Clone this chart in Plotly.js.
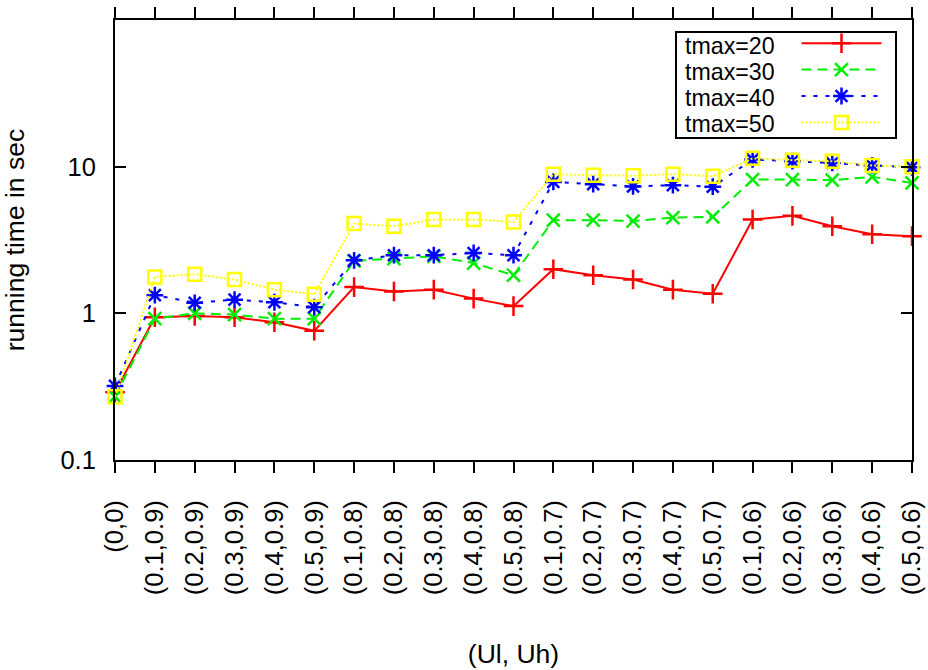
<!DOCTYPE html>
<html>
<head>
<meta charset="utf-8">
<script src="https://cdn.plot.ly/plotly-3.0.1.min.js"></script>
<style>html,body{margin:0;padding:0;background:#fff;}#chart{width:928px;height:670px;}</style>
</head>
<body>
<div id="chart"></div>
<script>
const categories = ["(0,0)", "(0.1,0.9)", "(0.2,0.9)", "(0.3,0.9)", "(0.4,0.9)", "(0.5,0.9)",
  "(0.1,0.8)", "(0.2,0.8)", "(0.3,0.8)", "(0.4,0.8)", "(0.5,0.8)",
  "(0.1,0.7)", "(0.2,0.7)", "(0.3,0.7)", "(0.4,0.7)", "(0.5,0.7)",
  "(0.1,0.6)", "(0.2,0.6)", "(0.3,0.6)", "(0.4,0.6)", "(0.5,0.6)"];
const tmax20 = [0.29, 0.94, 0.96, 0.94, 0.87, 0.76, 1.51, 1.41, 1.45, 1.26, 1.12, 2.0, 1.82, 1.70, 1.45, 1.36, 4.36, 4.62, 3.92, 3.46, 3.36];
const tmax30 = [0.27, 0.92, 1.0, 0.98, 0.92, 0.92, 2.28, 2.36, 2.45, 2.20, 1.82, 4.32, 4.32, 4.26, 4.50, 4.54, 8.17, 8.17, 8.09, 8.52, 7.75];
const tmax40 = [0.32, 1.33, 1.18, 1.24, 1.19, 1.10, 2.30, 2.49, 2.49, 2.58, 2.49, 7.87, 7.60, 7.33, 7.48, 7.30, 11.2, 10.9, 10.6, 10.2, 9.9];
const tmax50 = [0.27, 1.77, 1.85, 1.70, 1.45, 1.35, 4.09, 3.92, 4.36, 4.36, 4.20, 8.89, 8.75, 8.68, 8.89, 8.61, 11.4, 11.07, 10.9, 10.2, 10.0];
const seriesNames = ["tmax=20", "tmax=30", "tmax=40", "tmax=50"];
const yTickVals = [0.1, 1, 10];
const yTickText = ["0.1", "1", "10"];

const FONT = "Liberation Sans, Arial, Helvetica, sans-serif";
const FS = 26.5;
const TICKFS = 25.5;
const KEYFS = 23.2;
const styles = [
  {color: "#ff0000", dash: "solid", symbol: "cross-thin-open", size: 14},
  {color: "#00ee00", dash: "10px,6px", symbol: "x-thin-open", size: 13},
  {color: "#0000ff", dash: "4px,8px", symbol: "asterisk-open", size: 14},
  {color: "#ffff00", dash: "2px,2px", symbol: "square-open", size: 13}
];
const allSeries = [tmax20, tmax30, tmax40, tmax50];
// legend samples come from the native legend; the key labels are drawn on their left, gnuplot style
const traces = allSeries.map((vals, i) => ({
  type: "scatter",
  mode: "lines+markers",
  name: "",
  legendgroup: seriesNames[i],
  hovertext: seriesNames[i],
  x: categories,
  y: vals,
  cliponaxis: false,
  line: {color: styles[i].color, width: 2, dash: styles[i].dash},
  marker: {symbol: styles[i].symbol, size: styles[i].size, color: styles[i].color,
           line: {color: styles[i].color, width: 2.5}}
}));

const plotL = 115, plotR = 912, plotT = 20, plotB = 460;
const px = v => (v - plotL) / (plotR - plotL);
const py = v => (plotB - v) / (plotB - plotT);
const keyRowsY = [46, 72, 98, 124];
const keyAnnotations = seriesNames.map((nm, i) => ({
  text: nm, xref: "paper", yref: "paper", x: px(684), y: py(keyRowsY[i]),
  xanchor: "left", yanchor: "middle", showarrow: false,
  borderpad: 0, valign: "middle",
  font: {family: FONT, size: KEYFS, color: "#000"}
}));

const layout = {
  width: 928, height: 670,
  paper_bgcolor: "#fff", plot_bgcolor: "#fff",
  font: {family: FONT, size: FS, color: "#000"},
  margin: {l: plotL, r: 928 - plotR, t: plotT, b: 670 - plotB, autoexpand: false},
  showlegend: true,
  legend: {
    x: px(796.5), y: py(25), xanchor: "left", yanchor: "top",
    bgcolor: "rgba(0,0,0,0)", borderwidth: 0,
    font: {family: FONT, size: 18, color: "#000"},
    itemwidth: 80, tracegroupgap: 0
  },
  shapes: [{type: "rect", xref: "paper", yref: "paper", x0: px(676), x1: px(896), y0: py(138), y1: py(32),
            line: {color: "#000", width: 2}, fillcolor: "#fff", layer: "below"}],
  annotations: keyAnnotations,
  xaxis: {
    type: "category",
    range: [0, categories.length - 1],
    showline: true, linecolor: "#000", linewidth: 2,
    mirror: "ticks", ticks: "outside", ticklen: 11, tickwidth: 2, tickcolor: "#000",
    tickangle: -90, ticklabelstandoff: 17,
    tickfont: {family: FONT, size: TICKFS, color: "#000"},
    showgrid: false, zeroline: false, automargin: false,
    title: {text: "(Ul, Uh)", font: {family: FONT, size: FS, color: "#000"}, standoff: 50}
  },
  yaxis: {
    type: "log",
    range: [-1, 2],
    tickvals: yTickVals, ticktext: yTickText,
    showline: true, linecolor: "#000", linewidth: 2,
    mirror: "ticks", ticks: "inside", ticklen: 11, tickwidth: 2, tickcolor: "#000",
    ticklabelstandoff: 12,
    tickfont: {family: FONT, size: TICKFS, color: "#000"},
    showgrid: false, zeroline: false, automargin: false,
    title: {text: "running time in sec", font: {family: FONT, size: FS, color: "#000"}, standoff: 29}
  }
};

Plotly.newPlot("chart", traces, layout, {displayModeBar: false, staticPlot: true});
</script>
</body>
</html>
